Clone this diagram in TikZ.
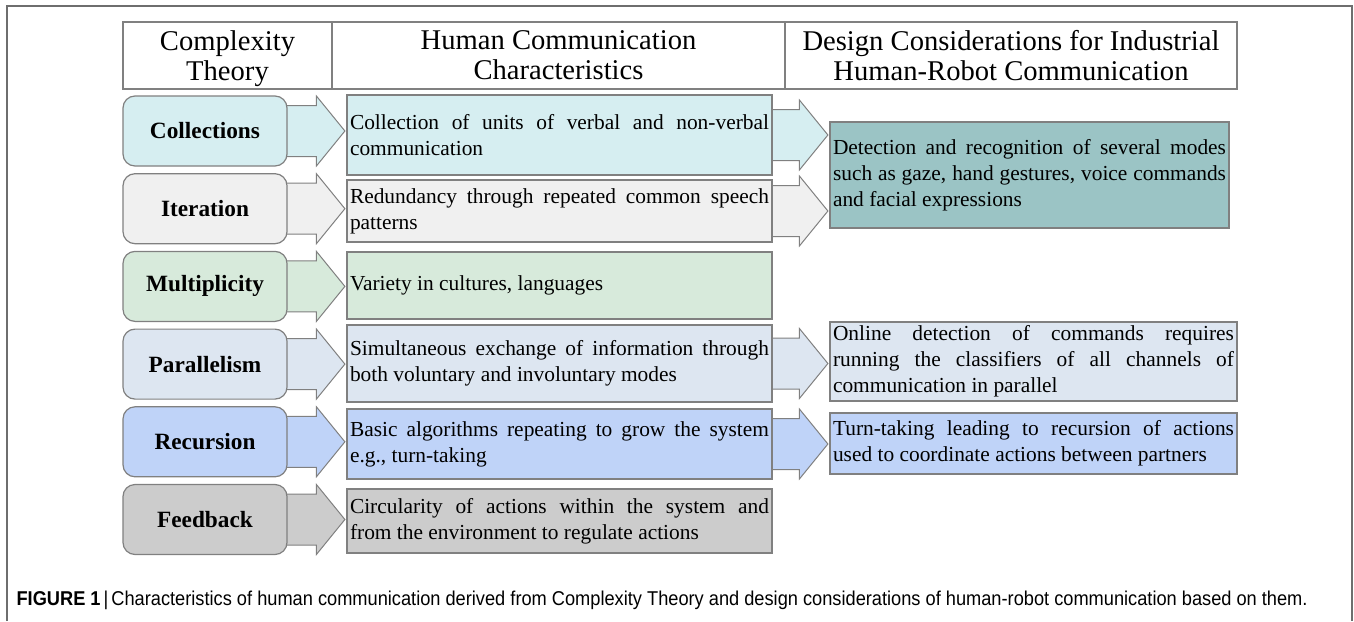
\documentclass[tikz,border=0pt]{standalone}
\usepackage{fontspec}
\usepackage{graphicx}
\setmainfont{Liberation Serif}
\newfontfamily\capfont{Liberation Sans}
\usetikzlibrary{calc, backgrounds}

\definecolor{edgegrey}{RGB}{128,128,128}
\definecolor{framegrey}{RGB}{110,110,110}
\definecolor{collcyan}{RGB}{214,238,241}
\definecolor{itergrey}{RGB}{240,240,240}
\definecolor{multgreen}{RGB}{215,234,219}
\definecolor{paraslate}{RGB}{221,230,241}
\definecolor{recblue}{RGB}{191,211,248}
\definecolor{feedgrey}{RGB}{204,204,204}
\definecolor{designteal}{RGB}{155,196,197}

\begin{document}
\begin{tikzpicture}[%
        x = 1pt,
        y = -1pt,
        line width = 1.2pt,
        headcell/.style = {%
            draw = edgegrey,
            minimum height = 67pt,
            inner sep = 0pt,
            align = center,
            font = \fontsize{28.6}{30}\selectfont
        },
        theory/.style = {%
            draw = edgegrey,
            rounded corners = 12pt,
            minimum width = 164pt,
            minimum height = 70pt,
            inner sep = 0pt,
            font = \fontsize{23.3}{26}\selectfont\bfseries
        },
        trait/.style = {%
            draw = edgegrey,
            text width = 419pt,
            inner xsep = 3pt,
            inner ysep = 0pt,
            align = justify,
            font = \fontsize{21.4}{26}\selectfont
        },
        fat/.style = {%
            draw = edgegrey,
            line width = 1pt,
            to path = {%
                let \p1 = (\tikztostart), \p2 = (\tikztotarget) in
                (\x1 - 8pt, \y1 - 25.5pt) -- (\x2 - 30pt, \y1 - 25.5pt)
                -- (\x2 - 30pt, \y1 - 35pt) -- (\x2 - 1.5pt, \y1)
                -- (\x2 - 30pt, \y1 + 35pt) -- (\x2 - 30pt, \y1 + 25.5pt)
                -- (\x1 - 8pt, \y1 + 25.5pt) -- cycle
            }
        }
    ]

        \useasboundingbox (0, 0) rectangle (1354, 621);

        % Figure frame, open at the bottom.
        \draw[framegrey] (7, 621) -- (7, 6) -- (1352, 6) -- (1352, 621);

        % Header row of the table.
        \node[headcell, minimum width = 209pt] (hd1) at (227.5, 55.5) {Complexity\\\raisebox{0pt}[\height][0pt]{Theory}};
        \node[headcell, minimum width = 453pt] (hd2) at (558.5, 55.5) {Human Communication\\Characteristics};
        \node[headcell, minimum width = 452pt] (hd3) at (1011, 55.5) {Design Considerations for Industrial\\Human-Robot Communication};

        % Complexity theory concepts, one per row.
        \foreach \n/\y/\lab/\col in {%
            1/131/Collections/collcyan,
            2/208.7/Iteration/itergrey,
            3/286.4/Multiplicity/multgreen,
            4/364.1/Parallelism/paraslate,
            5/441.8/Recursion/recblue,
            6/519.5/Feedback/feedgrey}{%
            \node[theory, fill = \col] (ct\n) at (205, \y) {\lab};
        }

        % Human communication characteristics.
        \node[trait, fill = collcyan,  minimum height = 80pt] (hc1) at (559.5, 135)
            {Collection of units of verbal and non-verbal\linebreak communication};
        \node[trait, fill = itergrey,  minimum height = 62pt] (hc2) at (559.5, 211)
            {Redundancy through repeated common speech\linebreak patterns};
        \node[trait, fill = multgreen, minimum height = 67pt] (hc3) at (559.5, 285.5)
            {Variety in cultures, languages};
        \node[trait, fill = paraslate, minimum height = 77pt] (hc4) at (559.5, 363.5)
            {Simultaneous exchange of information through\linebreak both voluntary and involuntary modes};
        \node[trait, fill = recblue,   minimum height = 70pt] (hc5) at (559.5, 444)
            {Basic algorithms repeating to grow the system\linebreak e.g., turn-taking};
        \node[trait, fill = feedgrey,  minimum height = 64pt] (hc6) at (559.5, 521)
            {Circularity of actions within the system and\linebreak from the environment to regulate actions};

        % Design considerations.
        \node[trait, fill = designteal, text width = 393pt, minimum height = 106pt] (dc1) at (1029.5, 175)
            {Detection and recognition of several modes\linebreak such as gaze, hand gestures, voice commands\linebreak and facial expressions};
        \node[trait, fill = paraslate, text width = 401pt, minimum height = 79pt] (dc2) at (1033.5, 361.5)
            {Online detection of commands requires\linebreak running the classifiers of all channels of\linebreak communication in parallel};
        \node[trait, fill = recblue, text width = 401pt, minimum height = 61pt] (dc3) at (1033.5, 443.5)
            {Turn-taking leading to recursion of actions\linebreak used to coordinate actions between partners};

        % Block arrows, kept behind the boxes.
        \begin{scope}[on background layer]
            \draw[fat, fill = collcyan]  (ct1.east) to (hc1.west);
            \draw[fat, fill = itergrey]  (ct2.east) to (hc2.west);
            \draw[fat, fill = multgreen] (ct3.east) to (hc3.west);
            \draw[fat, fill = paraslate] (ct4.east) to (hc4.west);
            \draw[fat, fill = recblue]   (ct5.east) to (hc5.west);
            \draw[fat, fill = feedgrey]  (ct6.east) to (hc6.west);

            \draw[fat, fill = collcyan]  (hc1.east) to (dc1.west);
            \draw[fat, fill = itergrey]  (hc2.east) to (dc1.west);
            \draw[fat, fill = paraslate] (hc4.east) to (dc2.west);
            \draw[fat, fill = recblue]   (hc5.east) to (dc3.west);
        \end{scope}

        % Caption line.
        \node[anchor = base west, inner sep = 0pt] (caption) at (16, 605)
            {\resizebox{1291pt}{\height}{\capfont\fontsize{20}{22}\selectfont\textbf{FIGURE 1}\,|\,Characteristics of human communication derived from Complexity Theory and design considerations of human-robot communication based on them.}};
    \end{tikzpicture}
\end{document}
